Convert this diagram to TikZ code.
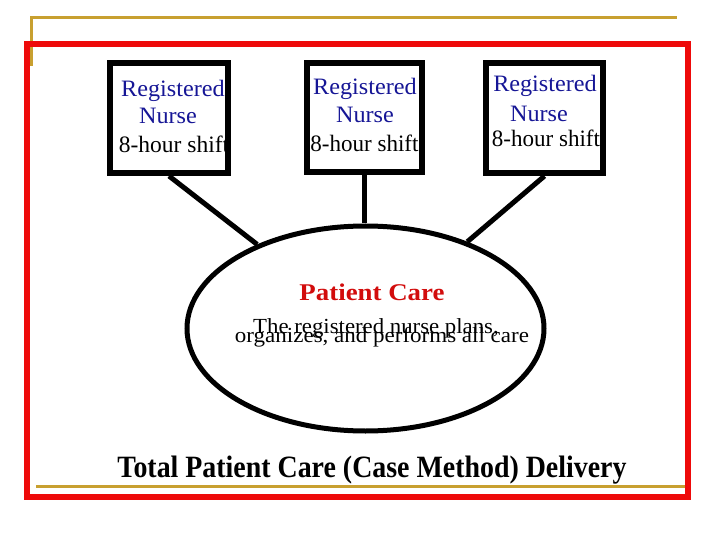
\documentclass[tikz,border=0pt]{standalone}
\usepackage{fontspec}
\setmainfont{Liberation Serif}
\usetikzlibrary{shapes.geometric}
\definecolor{frameRed}{RGB}{238,10,10}
\definecolor{goldLine}{RGB}{200,160,48}
\definecolor{nurseBlue}{RGB}{22,22,150}
\definecolor{careRed}{RGB}{210,12,12}
\newcommand{\myxs}[2]{\scalebox{#1}[1]{#2}}
\tikzset{
  nursebox/.style={draw=black, line width=6pt, fill=white, rectangle, inner sep=0pt},
  careoval/.style={draw=black, line width=5pt, ellipse, inner sep=0pt,
    minimum width=357pt, minimum height=205pt},
  link/.style={draw=black, line width=5pt},
  boxtxt/.style={anchor=base, inner sep=0pt, font=\fontsize{23.5}{28}\selectfont},
  bluetxt/.style={boxtxt, text=nurseBlue},
  bodytxt/.style={anchor=base, inner sep=0pt, font=\fontsize{21.5}{25}\selectfont},
  redframe/.style={draw=frameRed, line width=6pt},
  goldrule/.style={draw=goldLine, line width=3pt}
}
\begin{document}
\begin{tikzpicture}[x=1pt, y=-1pt]
\useasboundingbox (0,0) rectangle (720,540);
% decorative frame
\draw[goldrule] (30,18) -- (677,18);
\draw[goldrule] (31,18) -- (31,66);
\draw[redframe] (27,44.5) rectangle (688,497);
\draw[goldrule] (36,486) -- (685,486);
% boxes
\node[nursebox, minimum width=118pt, minimum height=110pt] (b1) at (169,118) {};
\node[nursebox, minimum width=115pt, minimum height=109pt] (b2) at (364.5,117.5) {};
\node[nursebox, minimum width=117pt, minimum height=110pt] (b3) at (544.5,118) {};
% ellipse
\node[careoval] (e) at (365.5,328.5) {};
% connectors
\draw[link] (b1.south) -- (e);
\draw[link] (b2.south) -- (b2.south |- e.north);
\draw[link] (b3.south) -- (e);
% box texts
\node[bluetxt] (t1a) at (173,97) {\myxs{1.03}{Registered}};
\node[bluetxt] (t1b) at (168,124) {\myxs{1.03}{Nurse}};
\node[boxtxt] (t1c) at (174,153) {\myxs{1.0}{8-hour shift}};
\node[bluetxt] (t2a) at (365,95) {\myxs{1.03}{Registered}};
\node[bluetxt] (t2b) at (365,123) {\myxs{1.03}{Nurse}};
\node[boxtxt] (t2c) at (364.5,152) {\myxs{0.98}{8-hour shift}};
\node[bluetxt] (t3a) at (545,92) {\myxs{1.03}{Registered}};
\node[bluetxt] (t3b) at (539,122) {\myxs{1.03}{Nurse}};
\node[boxtxt] (t3c) at (546,147) {\myxs{0.98}{8-hour shift}};
% ellipse texts
\node[anchor=base, inner sep=0pt, text=careRed, font=\fontsize{24}{28}\selectfont\bfseries] (pc) at (372,300.7) {\myxs{1.12}{Patient Care}};
\node[bodytxt] (l1) at (376,333.7) {\myxs{1.06}{The registered nurse plans,}};
\node[bodytxt] (l2) at (382,342.8) {\myxs{1.07}{organizes, and performs all care}};
% title
\node[anchor=base, inner sep=0pt, font=\fontsize{31}{36}\selectfont\bfseries] (title) at (372,477) {\myxs{0.9}{Total Patient Care (Case Method) Delivery}};
\end{tikzpicture}
\end{document}
